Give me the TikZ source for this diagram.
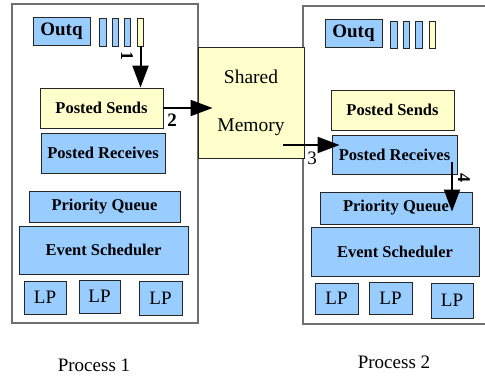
\documentclass[tikz,border=0pt]{standalone}
\usepackage{fontspec}
\setmainfont{Liberation Serif}
\usetikzlibrary{arrows.meta,calc}
\definecolor{qblue}{HTML}{99CCFF}
\definecolor{qyellow}{HTML}{FFFFCC}
\definecolor{procgray}{HTML}{707070}

\begin{document}
\begin{tikzpicture}[x=1pt,y=-1pt,
    sz/.style 2 args={minimum width=#1pt,minimum height=#2pt},
    proc/.style={draw=procgray,line width=1.3pt,fill=white,inner sep=0pt},
    part/.style={draw=black!85,line width=0.9pt,inner sep=0pt,
      font=\fontsize{16.5}{18}\selectfont\bfseries},
    bpart/.style={part,fill=qblue},
    ypart/.style={part,fill=qyellow},
    lp/.style={bpart,font=\fontsize{19}{20}\selectfont},
    num/.style={font=\fontsize{19}{20}\selectfont},
    flow/.style={-{Triangle[length=22pt,width=16pt]},line width=2pt}]
  \useasboundingbox (0,0) rectangle (485,379);

  % the two processes and the shared memory between them
  \node[proc,sz={186}{319}] (proc1) at (105,163.5) {};
  \node[proc,sz={187}{318}] (proc2) at (396.5,165) {};
  \node[ypart,sz={106}{111},font=\fontsize{19.5}{48}\selectfont,align=center] (shm) at (251,102.5) {Shared\\Memory};

  % process 1
  \node[bpart,sz={57}{28},font=\fontsize{19}{20}\selectfont\bfseries] (outq1) at (61.5,31) {Outq};
  \node[bpart,sz={6.5}{28}] (q1a) at (103,32) {};
  \node[bpart,sz={6.5}{28}] (q1b) at (115.5,32) {};
  \node[bpart,sz={6.5}{28}] (q1c) at (127.5,32) {};
  \node[ypart,sz={6.5}{28}] (q1d) at (140.5,32) {};
  \node[ypart,sz={123}{40}] (ps1) at (101.5,108) {Posted Sends};
  \node[bpart,sz={124}{40}] (pr1) at (103,153) {Posted Receives};
  \node[bpart,sz={151}{31}] (pq1) at (104.5,206.5) {Priority Queue};
  \node[bpart,sz={169}{48}] (es1) at (103.5,250) {Event Scheduler};
  \node[lp,sz={42}{33}] (lp1a) at (45,297.5) {LP};
  \node[lp,sz={41}{33}] (lp1b) at (99.5,296.5) {LP};
  \node[lp,sz={43}{34}] (lp1c) at (160.5,298) {LP};

  % process 2
  \node[bpart,sz={57}{28},font=\fontsize{19}{20}\selectfont\bfseries] (outq2) at (353.5,33) {Outq};
  \node[bpart,sz={6.5}{27}] (q2a) at (394,34.5) {};
  \node[bpart,sz={6.5}{27}] (q2b) at (406.5,34.5) {};
  \node[bpart,sz={6.5}{27}] (q2c) at (419,34.5) {};
  \node[ypart,sz={6.5}{27}] (q2d) at (432.5,34.5) {};
  \node[ypart,sz={123}{40}] (ps2) at (392.5,110) {Posted Sends};
  \node[bpart,sz={125}{39}] (pr2) at (394.5,154.5) {Posted Receives};
  \node[bpart,sz={152}{32}] (pq2) at (396,208) {Priority Queue};
  \node[bpart,sz={168}{49}] (es2) at (395,251.5) {Event Scheduler};
  \node[lp,sz={43}{31}] (lp2a) at (336.5,298.5) {LP};
  \node[lp,sz={43}{32}] (lp2b) at (390.5,298) {LP};
  \node[lp,sz={42}{35}] (lp2c) at (452,300.5) {LP};

  \node[num] (name1) at (94,365) {Process 1};
  \node[num] (name2) at (394,362) {Process 2};

  % message path
  \coordinate (s3) at (283,145);
  \coordinate (s4) at (452,162);
  \draw[flow] (q1d.south) -- (q1d.south |- ps1.north);
  \draw[flow,shorten >=-15pt] (ps1.east) -- (ps1.east -| shm.west);
  \draw[flow,shorten >=-8pt] (s3) -- (s3 -| pr2.west);
  \draw[flow,shorten >=-20pt] (s4) -- (s4 |- pq2.north);
  \node[num,font=\fontsize{18}{20}\selectfont\bfseries,rotate=-90] (lab1) at (127,56) {1};
  \node[num,font=\fontsize{19}{20}\selectfont\bfseries] (lab2) at (172,120) {2};
  \node[num] (lab3) at (312,158) {3};
  \node[num,font=\fontsize{18}{20}\selectfont\bfseries,rotate=-90] (lab4) at (464,178) {4};
\end{tikzpicture}
\end{document}
